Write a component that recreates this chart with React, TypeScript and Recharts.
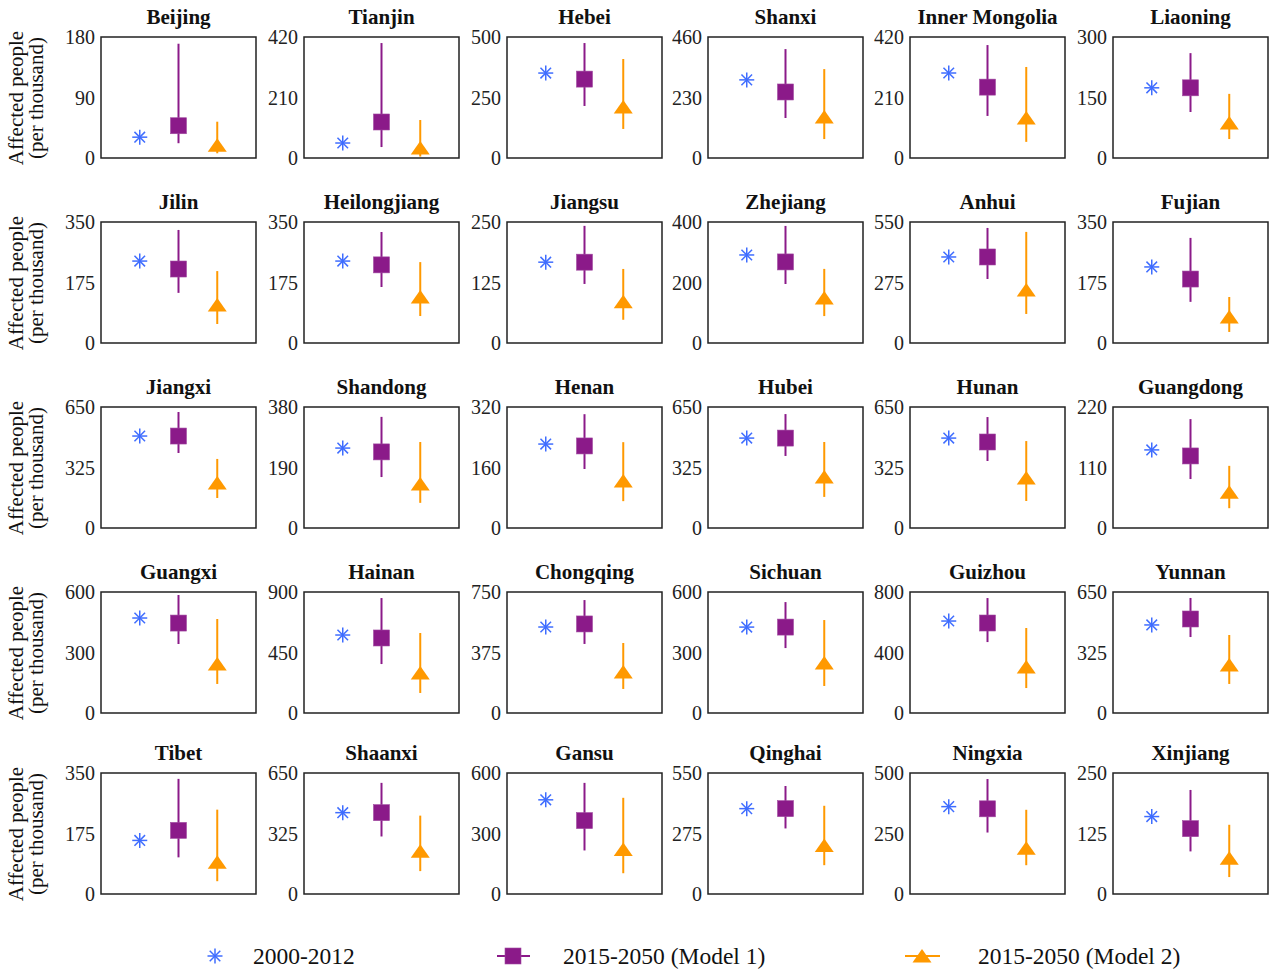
import { ScatterChart, Scatter, XAxis, YAxis, ErrorBar, ReferenceArea } from 'recharts';

const provinces = [
  'Beijing', 'Tianjin', 'Hebei', 'Shanxi', 'Inner Mongolia', 'Liaoning',
  'Jilin', 'Heilongjiang', 'Jiangsu', 'Zhejiang', 'Anhui', 'Fujian',
  'Jiangxi', 'Shandong', 'Henan', 'Hubei', 'Hunan', 'Guangdong',
  'Guangxi', 'Hainan', 'Chongqing', 'Sichuan', 'Guizhou', 'Yunnan',
  'Tibet', 'Shaanxi', 'Gansu', 'Qinghai', 'Ningxia', 'Xinjiang',
];
const axisMax = [
  180, 420, 500, 460, 420, 300,
  350, 350, 250, 400, 550, 350,
  650, 380, 320, 650, 650, 220,
  600, 900, 750, 600, 800, 650,
  350, 650, 600, 550, 500, 250,
];
// 2000-2012
const observed = [
  31, 52, 351, 297, 295, 174,
  237, 237, 167, 291, 391, 220,
  494, 251, 222, 483, 483, 142,
  471, 580, 533, 426, 608, 473,
  155, 437, 467, 388, 361, 160,
];
// 2015-2050 (Model 1)
const model1 = [
  48, 125, 326, 251, 246, 174,
  214, 226, 167, 268, 391, 185,
  494, 239, 217, 483, 462, 131,
  446, 558, 552, 426, 595, 505,
  184, 437, 364, 388, 352, 135,
];
const model1Low = [
  22, 38, 215, 152, 146, 114,
  145, 162, 122, 195, 291, 119,
  403, 160, 156, 387, 360, 89,
  342, 364, 428, 322, 469, 408,
  106, 309, 216, 298, 254, 88,
];
const model1High = [
  170, 399, 475, 414, 392, 260,
  327, 321, 242, 387, 523, 304,
  623, 349, 301, 612, 596, 198,
  585, 855, 700, 550, 760, 618,
  333, 597, 551, 491, 475, 215,
];
// 2015-2050 (Model 2)
const model2 = [
  19, 35, 211, 156, 139, 87,
  110, 133, 85, 149, 241, 75,
  242, 138, 124, 274, 269, 65,
  243, 298, 254, 248, 304, 258,
  92, 229, 221, 221, 189, 74,
];
const model2Low = [
  7, 5, 120, 72, 56, 47,
  55, 78, 48, 89, 132, 32,
  161, 79, 71, 167, 145, 36,
  144, 149, 149, 134, 165, 156,
  37, 123, 103, 131, 119, 35,
];
const model2High = [
  54, 132, 409, 338, 316, 159,
  208, 234, 153, 245, 505, 133,
  371, 270, 227, 462, 467, 113,
  466, 595, 434, 461, 562, 419,
  244, 421, 477, 401, 348, 143,
];

const BLUE = '#3f6dff';
const PURPLE = '#8b1a89';
const ORANGE = '#ff9900';
const FONT = '"Liberation Serif", "Times New Roman", serif';

const colLeft = [101, 304, 507, 708, 910, 1113];
const rowTop = [37, 222, 407, 592, 773];
const PLOT_W = 155;
const PLOT_H = 121;
const AXIS_W = 45;
const RIGHT_W = 4;
const PAD = 12;

const Asterisk = ({ cx, cy }: any) => {
  const r = 7.5, d = 5.3;
  return (
    <g stroke={BLUE} strokeWidth={1.5}>
      <line x1={cx - r} y1={cy} x2={cx + r} y2={cy} />
      <line x1={cx} y1={cy - r} x2={cx} y2={cy + r} />
      <line x1={cx - d} y1={cy - d} x2={cx + d} y2={cy + d} />
      <line x1={cx - d} y1={cy + d} x2={cx + d} y2={cy - d} />
    </g>
  );
};
const Square = ({ cx, cy }: any) => (
  <rect x={cx - 8} y={cy - 8} width={16} height={16} fill={PURPLE} stroke="#a04aa0" strokeWidth={0.6} />
);
const Triangle = ({ cx, cy }: any) => (
  <polygon points={`${cx},${cy - 7} ${cx + 9.5},${cy + 6.5} ${cx - 9.5},${cy + 6.5}`} fill={ORANGE} />
);

function Panel({ i }: { i: number }) {
  const col = i % 6;
  const row = Math.floor(i / 6);
  const left = colLeft[col];
  const top = rowTop[row];
  const max = axisMax[i];
  const obsData = [{ x: 1, y: observed[i] }];
  const m1Data = [{ x: 2, y: model1[i], err: [model1[i] - model1Low[i], model1High[i] - model1[i]] }];
  const m2Data = [{ x: 3, y: model2[i], err: [model2[i] - model2Low[i], model2High[i] - model2[i]] }];
  return (
    <>
      <div
        style={{
          position: 'absolute', left: left - 20, top: top - 32, width: PLOT_W + 40, textAlign: 'center',
          fontFamily: FONT, fontWeight: 'bold', fontSize: 21, lineHeight: '24px', color: '#111',
          whiteSpace: 'nowrap',
        }}
      >
        {provinces[i]}
      </div>
      <div style={{ position: 'absolute', left: left - AXIS_W, top: top - PAD }}>
        <ScatterChart
          width={AXIS_W + PLOT_W + RIGHT_W}
          height={PLOT_H + PAD * 2}
          margin={{ top: PAD, right: 0, bottom: PAD, left: 0 }}
        >
          <XAxis type="number" dataKey="x" domain={[0, 4]} hide />
          <YAxis
            type="number"
            dataKey="y"
            domain={[0, max]}
            ticks={[0, max / 2, max]}
            interval={0}
            width={AXIS_W}
            axisLine={false}
            tickLine={false}
            tickSize={4}
            tickMargin={2}
            tick={{ fill: '#222', fontSize: 20, fontFamily: FONT }}
          />
          <YAxis
            yAxisId="r"
            orientation="right"
            type="number"
            domain={[0, max]}
            ticks={[max / 2]}
            interval={0}
            width={RIGHT_W}
            axisLine={false}
            tick={false}
            tickSize={3}
            tickLine={{ stroke: '#222', strokeWidth: 1.5 }}
          />
          <ReferenceArea x1={0} x2={4} y1={0} y2={max} fill="none" stroke="#222" strokeWidth={1.5} ifOverflow="visible" />
          <Scatter data={obsData} shape={Asterisk} isAnimationActive={false} />
          <Scatter data={m1Data} shape={Square} isAnimationActive={false}>
            <ErrorBar dataKey="err" direction="y" width={0} stroke={PURPLE} strokeWidth={2} isAnimationActive={false} />
          </Scatter>
          <Scatter data={m2Data} shape={Triangle} isAnimationActive={false}>
            <ErrorBar dataKey="err" direction="y" width={0} stroke={ORANGE} strokeWidth={2} isAnimationActive={false} />
          </Scatter>
        </ScatterChart>
      </div>
    </>
  );
}

function YLabel({ row }: { row: number }) {
  const mid = rowTop[row] + PLOT_H / 2;
  return (
    <div
      style={{
        position: 'absolute', left: 28 - 85, top: mid - 22, width: 170, height: 44,
        transform: 'rotate(-90deg)', transformOrigin: 'center',
        fontFamily: FONT, fontSize: 21, lineHeight: '20px', textAlign: 'center', color: '#111',
        whiteSpace: 'nowrap',
      }}
    >
      <div>Affected people</div>
      <div>(per thousand)</div>
    </div>
  );
}

function Legend() {
  const y = 956;
  return (
    <svg width={1274} height={40} style={{ position: 'absolute', left: 0, top: y - 20 }}>
      <Asterisk cx={215} cy={20} />
      <text x={253} y={28} fontFamily={FONT} fontSize={23.5} fill="#111">2000-2012</text>
      <line x1={497} y1={20} x2={530} y2={20} stroke={PURPLE} strokeWidth={2} />
      <Square cx={513} cy={20} />
      <text x={563} y={28} fontFamily={FONT} fontSize={23.5} fill="#111">2015-2050 (Model 1)</text>
      <line x1={905} y1={20} x2={940} y2={20} stroke={ORANGE} strokeWidth={2} />
      <Triangle cx={922} cy={20} />
      <text x={978} y={28} fontFamily={FONT} fontSize={23.5} fill="#111">2015-2050 (Model 2)</text>
    </svg>
  );
}

export default function App() {
  return (
    <div style={{ position: 'absolute', left: 0, top: 0, width: 1274, height: 974, background: '#fff', overflow: 'hidden' }}>
      {provinces.map((_, i) => (
        <Panel key={i} i={i} />
      ))}
      {rowTop.map((_, r) => (
        <YLabel key={r} row={r} />
      ))}
      <Legend />
    </div>
  );
}
